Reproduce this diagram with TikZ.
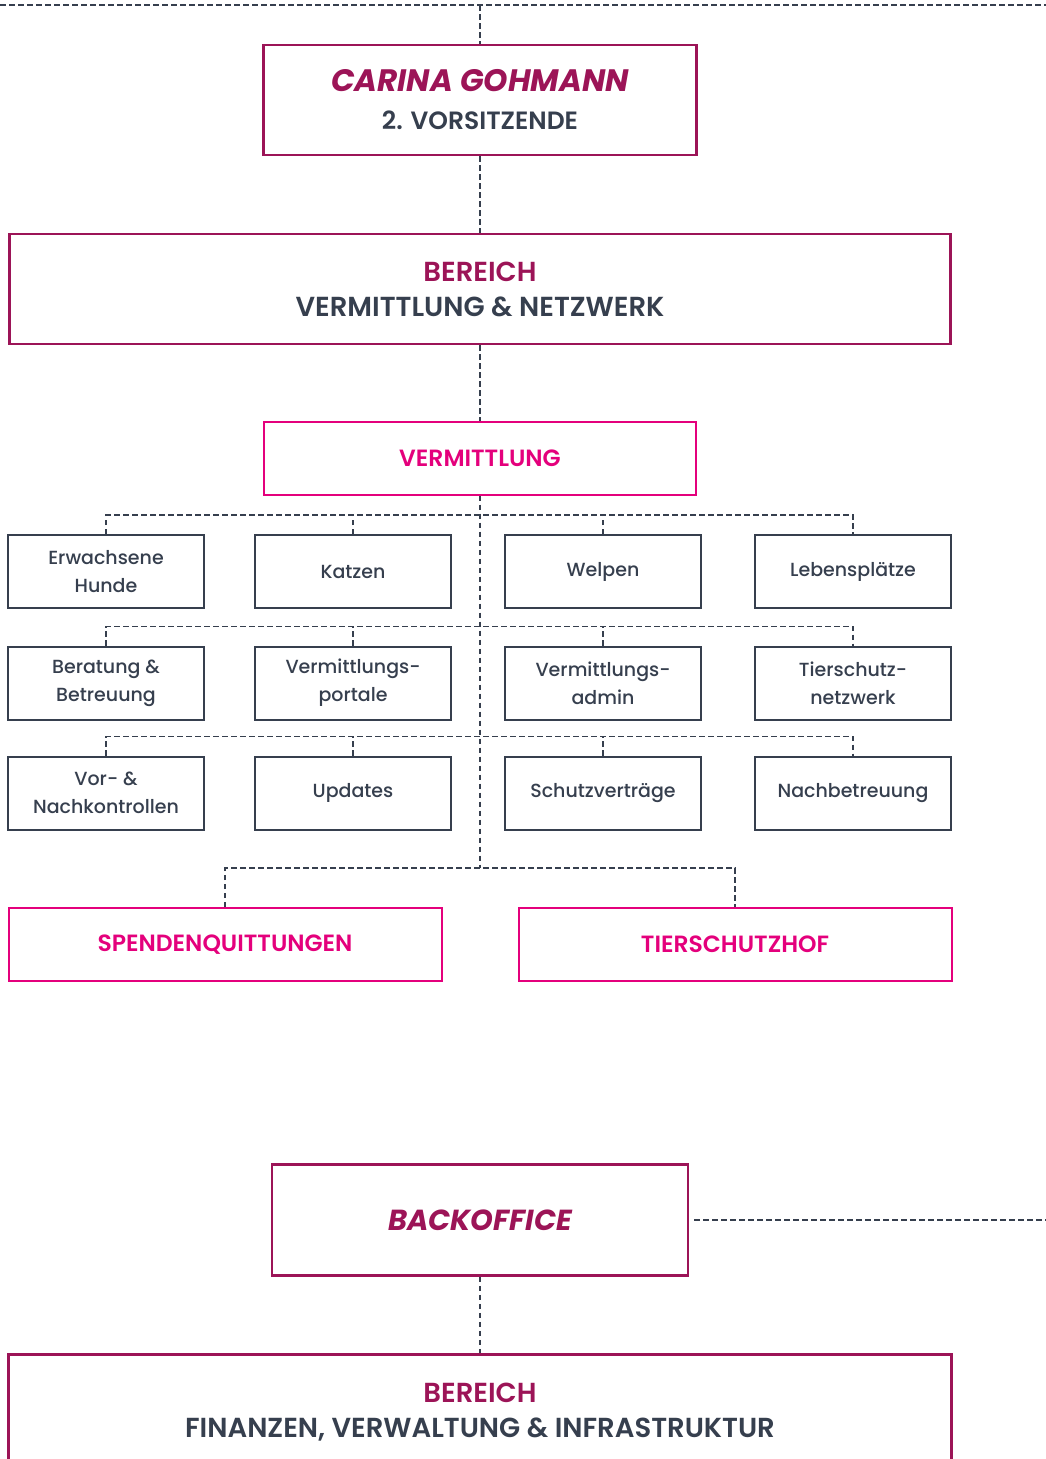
\documentclass[tikz,border=0pt]{standalone}
\usepackage{fontspec}
\setmainfont{Poppins}
\newfontfamily\medfont{Poppins Medium}
\newfontfamily\semifont{Poppins SemiBold}
\usetikzlibrary{positioning}

\definecolor{berry}{HTML}{9C1457}
\definecolor{pink}{HTML}{E4007C}
\definecolor{slate}{HTML}{363F4E}

\tikzset{
  link/.style={draw=slate, line width=1.5pt, dash pattern=on 5.5pt off 3.5pt},
  bigbox/.style={draw=berry, line width=2.5pt, fill=white, align=center, inner sep=0pt},
  pinkbox/.style={draw=pink, line width=2pt, fill=white, text=pink, align=center,
    minimum height=73pt, font=\semifont\fontsize{23.5}{28}\selectfont},
  taskbox/.style={draw=slate, line width=2pt, fill=white, text=slate, align=center,
    minimum width=196pt, minimum height=73pt, inner sep=0pt,
    font=\medfont\fontsize{19}{28}\selectfont},
}

\begin{document}
\begin{tikzpicture}[x=1pt, y=-1pt]
  \useasboundingbox[fill=white] (0,0) rectangle (1046,1459);

  % obere Ebene
  \coordinate (topleft) at (0,5);
  \coordinate (topright) at (1046,5);
  \coordinate (topmid) at (480,5);
  \draw[link] (topleft) -- (topright);

  \node[bigbox, minimum width=433pt, minimum height=110pt,
    font=\fontsize{25}{38}\selectfont] (chair) at (480,100)
    {{\color{berry}\bfseries\itshape\fontsize{31}{38}\selectfont CARINA GOHMANN}\\
     {\color{slate}\semifont 2. VORSITZENDE}};
  \draw[link] (topmid) -- (chair.north);

  \node[bigbox, minimum width=941pt, minimum height=110pt,
    font=\fontsize{27.5}{35}\selectfont] (netz) at (480,289)
    {{\color{berry}\semifont BEREICH}\\
     {\color{slate}\semifont VERMITTLUNG \& NETZWERK}};
  \draw[link] (chair.south) -- (netz.north);

  \node[pinkbox, minimum width=432pt] (vm) at (480,458) {VERMITTLUNG};
  \draw[link] (netz.south) -- (vm.north);

  % Aufgaben
  \node[taskbox] (hunde)      at (106,571.5) {Erwachsene\\Hunde};
  \node[taskbox] (katzen)     at (353,571.5) {Katzen};
  \node[taskbox] (welpen)     at (603,571.5) {Welpen};
  \node[taskbox] (leben)      at (853,571.5) {Lebensplätze};
  \node[taskbox] (beratung)   at (106,683) {Beratung \&\\Betreuung};
  \node[taskbox] (portale)    at (353,683) {Vermittlungs-\\portale};
  \node[taskbox] (admin)      at (603,683) {Vermittlungs-\\admin};
  \node[taskbox] (tsnetz)     at (853,683) {Tierschutz-\\netzwerk};
  \node[taskbox] (kontrollen) at (106,793) {Vor- \&\\Nachkontrollen};
  \node[taskbox] (updates)    at (353,793) {Updates};
  \node[taskbox] (vertraege)  at (603,793) {Schutzverträge};
  \node[taskbox] (nachbetr)   at (853,793) {Nachbetreuung};

  \coordinate (split) at (480,868);
  \draw[link] (vm.south) -- (split);
  \foreach \a/\b/\c/\d in {hunde/katzen/welpen/leben,
      beratung/portale/admin/tsnetz,
      kontrollen/updates/vertraege/nachbetr}{
    \draw[link] (\a.north) -- ++(0,-19) -| (\d.north);
    \draw[link] (\b.north) -- ++(0,-19);
    \draw[link] (\c.north) -- ++(0,-19);
  }

  \node[pinkbox, minimum width=433pt] (spenden) at (225,944.5) {SPENDENQUITTUNGEN};
  \node[pinkbox, minimum width=433pt] (hof)     at (735,944.5) {TIERSCHUTZHOF};
  \draw[link] (spenden.north) |- (split) -| (hof.north);

  % Backoffice
  \node[bigbox, minimum width=416pt, minimum height=111pt] (back) at (480,1220)
    {\color{berry}\bfseries\itshape\fontsize{29}{36}\selectfont BACKOFFICE};
  \coordinate (backright) at (1046,1220);
  \draw[link] ([xshift=5pt]back.east) -- (backright);

  \node[bigbox, minimum width=943pt, minimum height=160pt, anchor=north] (finanz) at (480,1353) {};
  \node[align=center, inner sep=0pt, font=\fontsize{27.5}{35}\selectfont] (finanztext) at (480,1412)
    {{\color{berry}\semifont BEREICH}\\
     {\color{slate}\semifont FINANZEN, VERWALTUNG \& INFRASTRUKTUR}};
  \draw[link] (back.south) -- (finanz.north);
\end{tikzpicture}
\end{document}
